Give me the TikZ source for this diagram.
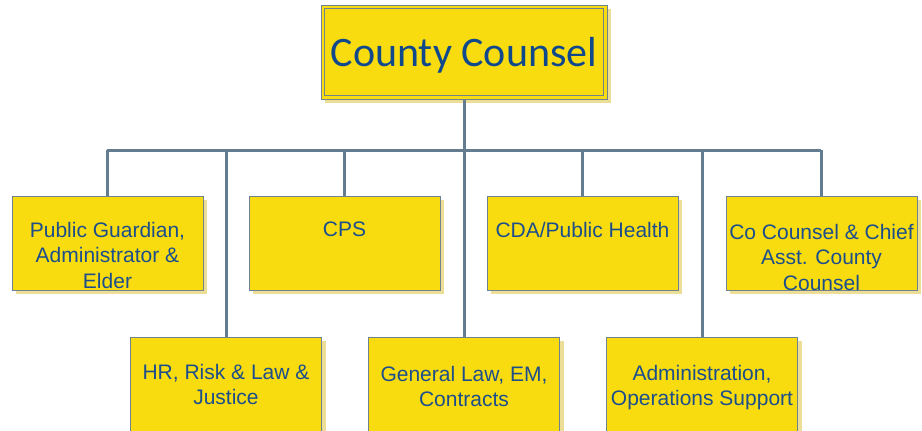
\documentclass[tikz,border=0pt]{standalone}
\usepackage{fontspec}
\setmainfont{Liberation Sans}
\newfontfamily\titlefont{Carlito}
\usetikzlibrary{shadows}
\definecolor{boxyellow}{RGB}{249,220,16}
\definecolor{boxedge}{RGB}{112,130,142}
\definecolor{shadowtan}{RGB}{236,222,150}
\definecolor{linkgray}{RGB}{100,124,144}
\definecolor{textblue}{RGB}{28,78,140}
\definecolor{titleblue}{RGB}{16,72,140}
\tikzset{
  unitbox/.style={draw=boxedge, line width=1pt, fill=boxyellow, inner sep=0pt,
    minimum width=191pt, minimum height=94pt,
    drop shadow={shadow xshift=4pt, shadow yshift=-4pt, fill=shadowtan, opacity=1}},
  headbox/.style={unitbox, minimum width=286pt},
  unittext/.style={anchor=north, inner sep=0pt, align=center, text=textblue,
    font=\fontsize{21}{25.5}\selectfont},
  link/.style={draw=linkgray, line width=3pt}
}
\begin{document}
\begin{tikzpicture}[x=1pt, y=-1pt]
\useasboundingbox (0,0) rectangle (922,431);
\begin{scope}
\clip (0,0) rectangle (922,431);
% boxes of the upper and lower rows
\node[unitbox] (pg)  at (107.5,243) {};
\node[unitbox] (cps) at (344.5,243) {};
\node[unitbox] (cda) at (582.5,243) {};
\node[unitbox] (cc)  at (821.5,243) {};
\node[unitbox] (hr)  at (226,384) {};
\node[unitbox] (gl)  at (464,384) {};
\node[unitbox] (adm) at (702,384) {};

% head box with its inner frame
\node[headbox] (head) at (464,52) {};
\draw[draw=boxedge, line width=1pt] ([shift={(4pt,-4pt)}]head.north west) rectangle ([shift={(-4pt,4pt)}]head.south east);
\node[anchor=base, inner sep=0pt, text=titleblue, font=\titlefont\fontsize{42}{50}\selectfont] (headtext) at (464,66) {County Counsel};

% connectors
\coordinate (busL) at (107,150);
\coordinate (busR) at (821,150);
\draw[link] (busL) -- (busR);
\draw[link] (head.south) -- (gl.north);
\draw[link] (pg.north)  -- (pg.north |- busL);
\draw[link] (hr.north)  -- (hr.north |- busL);
\draw[link] (cps.north) -- (cps.north |- busL);
\draw[link] (cda.north) -- (cda.north |- busL);
\draw[link] (adm.north) -- (adm.north |- busL);
\draw[link] (cc.north)  -- (cc.north |- busL);

% labels
\node[unittext] (pgt)  at (107.5,222) {Public Guardian,\\Administrator \&\\Elder};
\node[unittext] (cpst) at (344.5,222) {CPS};
\node[unittext] (cdat) at (582.5,222) {CDA/Public Health};
\node[unittext] (cct)  at (821.5,224) {Co Counsel \& Chief\\Asst. County\\Counsel};
\node[unittext] (hrt)  at (226,364) {HR, Risk \& Law \&\\Justice};
\node[unittext] (glt)  at (464,366) {General Law, EM,\\Contracts};
\node[unittext] (admt) at (702,365) {Administration,\\Operations Support};
\end{scope}
\end{tikzpicture}
\end{document}
